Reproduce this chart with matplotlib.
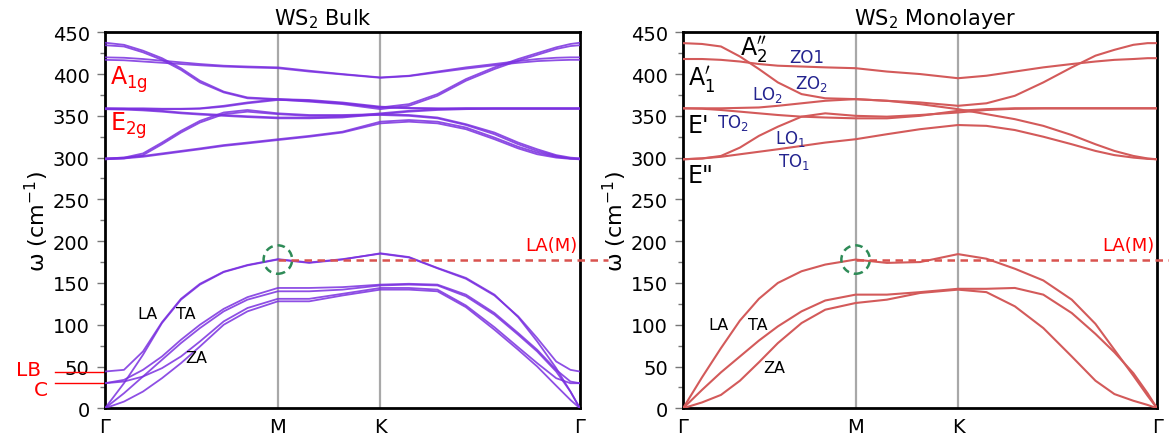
import matplotlib
matplotlib.use("Agg")
import matplotlib.pyplot as plt
from matplotlib.patches import Ellipse

# high-symmetry path, fraction of total path length
kpos = [0, 0.364, 0.58, 1.0]
klabels = ["Γ", "M", "K", "Γ"]
# sample points along the path (same for every band)
k = [0, 0.04, 0.08, 0.12, 0.16, 0.2, 0.25, 0.3, 0.364, 0.43, 0.5,
     0.58, 0.64, 0.7, 0.76, 0.82, 0.87, 0.91, 0.95, 0.98, 1.0]

# ---- WS2 bulk (cm^-1) ----
bulk_LA1 = [0, 30, 64, 102, 130, 148, 163, 171, 178, 174, 178, 185.5, 181, 168, 156, 136, 109, 80, 48, 20, 0]
bulk_LA2 = [44, 46, 68, 103, 131, 149, 163.5, 171.5, 178.5, 174.5, 178.5, 185, 180.5, 167.5, 155, 135, 110, 84, 56, 46, 44]
bulk_TA1 = [0, 18, 38, 58, 78, 96, 116, 130, 140, 140, 142, 147, 148, 147, 134, 112, 88, 68, 44, 20, 0]
bulk_TA2 = [30, 34, 46, 62, 82, 100, 119, 133, 144, 144, 145, 148, 149, 148, 136, 114, 90, 70, 46, 32, 30]
bulk_ZA1 = [0, 8, 20, 36, 54, 74, 100, 116, 128, 128, 135, 142, 142, 140, 121, 94, 70, 50, 27, 10, 0]
bulk_ZA2 = [30, 32, 38, 48, 62, 80, 104, 120, 131, 131, 137, 144, 144, 142, 123, 97, 73, 54, 36, 30, 30]
bulk_TO1a = [299, 300, 302, 305, 308, 311, 315, 318, 322, 326, 331, 343, 345, 343, 336, 324, 313, 306, 301, 299, 299]
bulk_TO1b = [298, 299, 301, 304, 307, 310, 314, 317, 321, 325, 330, 341, 343, 341, 334, 322, 311, 304, 300, 298.5, 298]
bulk_LO1a = [299, 300, 305, 318, 332, 344, 354, 357, 353, 351, 351, 352, 351, 348, 340, 330, 318, 310, 303, 300, 299]
bulk_LO1b = [298, 299, 303, 316, 330, 342, 352, 355, 352, 350, 350, 351, 350, 347, 339, 328, 316, 308, 302, 299, 298]
bulk_TO2a = [359, 358.5, 357.5, 356, 354, 352.5, 351, 349.5, 348, 348, 349, 353, 356, 358, 359, 359, 359, 359, 359, 359, 359]
bulk_TO2b = [358, 357.5, 356.5, 355, 353, 351.5, 350, 348.5, 347, 347, 348, 352, 355, 357, 358, 358.5, 358.5, 358.5, 358.5, 358.5, 358.5]
bulk_LO2a = [359, 359, 359, 358.5, 358.5, 359, 362, 366, 370, 369, 366, 361, 359.5, 359, 359, 359, 359, 359, 359, 359, 359]
bulk_LO2b = [358, 358, 358, 358, 358, 358.5, 361, 365, 369, 368, 365, 360, 359, 358.5, 358.5, 358.5, 358.5, 358.5, 358.5, 358.5, 358.5]
bulk_A1a = [420, 419.5, 418, 416, 414, 412, 410, 409, 408, 404, 400, 396, 398, 403, 408, 412, 415.5, 418, 419.5, 420, 420]
bulk_A1b = [417, 416.5, 415, 413.5, 412, 410.5, 409, 408, 407, 403, 399.5, 395.5, 397.5, 402, 406.5, 410.5, 413.5, 415.5, 416.5, 417, 417]
bulk_A2a = [437.5, 435, 428, 419, 407, 392, 379, 372, 370, 368, 365, 360, 364, 376, 394, 408, 418, 425, 432, 436, 437.5]
bulk_A2b = [434.5, 433, 426, 417, 405, 390, 378, 371, 369.5, 367, 364, 358, 362, 374, 392, 406, 416, 423, 430, 433.5, 434.5]

# ---- WS2 monolayer (cm^-1) ----
mono_ZA = [0, 7, 16, 33, 55, 78, 102, 118, 126, 130, 138, 142, 139, 122, 96, 62, 33, 17, 9, 4, 0]
mono_TA = [0, 22, 43, 62, 81, 98, 116, 129, 136, 136, 139, 143, 143, 144, 136, 114, 89, 67, 42, 18, 0]
mono_LA = [0, 37, 72, 105, 131, 150, 164, 172, 178, 174, 175, 184.5, 179, 167, 153, 130, 101, 70, 39, 15, 0]
mono_TO1 = [298, 299, 301, 304, 307, 310, 314, 318, 322, 328, 334, 339, 338, 333, 325, 316, 308, 303, 300, 298.5, 298]
mono_LO1 = [298, 299, 302, 312, 326, 337, 349, 353, 350, 349, 351, 354, 357, 358.5, 359, 359, 359, 359, 359, 359, 359]
mono_TO2 = [359, 358.5, 357, 355, 353, 351, 349, 348, 347, 347, 350, 356, 358, 359, 359, 359, 359, 359, 359, 359, 359]
mono_LO2 = [359, 359, 359, 359.5, 360, 362, 365, 368, 370, 368, 364, 358, 352, 346, 338, 327, 316, 308, 302, 299, 298]
mono_A1 = [418, 418, 417, 415, 412, 410, 409, 408, 407, 403, 400, 395, 398, 403, 408, 412, 415, 417, 418, 419, 419]
mono_A2 = [437, 436, 433, 421, 406, 390, 376, 371, 370, 368, 366, 362, 365, 374, 390, 408, 422, 429, 435, 437, 437]

la_M = 178  # LA frequency at M

bulk_bands = [bulk_LA1, bulk_LA2, bulk_TA1, bulk_TA2, bulk_ZA1, bulk_ZA2,
              bulk_TO1a, bulk_TO1b, bulk_LO1a, bulk_LO1b, bulk_TO2a, bulk_TO2b,
              bulk_LO2a, bulk_LO2b, bulk_A1a, bulk_A1b, bulk_A2a, bulk_A2b]
mono_bands = [mono_ZA, mono_TA, mono_LA, mono_TO1, mono_LO1, mono_TO2,
              mono_LO2, mono_A1, mono_A2]

fig = plt.figure(figsize=(11.69, 4.39), dpi=100)
ax1 = fig.add_axes([0.0898, 0.0677, 0.4063, 0.8565])
ax2 = fig.add_axes([0.5843, 0.0677, 0.4055, 0.8565])


def setup(ax, title, tx):
    ax.set_xlim(0, 1)
    ax.set_ylim(0, 450)
    ax.set_yticks(range(0, 451, 50))
    ax.set_yticks(range(25, 450, 50), minor=True)
    ax.set_xticks(kpos)
    ax.set_xticklabels(klabels)
    ax.tick_params(axis="x", length=0, pad=6, labelsize=14)
    ax.tick_params(axis="y", which="major", length=6, width=1, color="#777", labelsize=14, pad=5)
    ax.tick_params(axis="y", which="minor", length=3.5, width=1, color="#777")
    for s in ax.spines.values():
        s.set_linewidth(2)
    for x in kpos[1:3]:
        ax.axvline(x, color="#a8a8a8", lw=1.6, zorder=1)
    ax.set_ylabel("ω (cm$^{-1}$)", fontsize=16, labelpad=1)
    ax.set_title(title, x=tx, fontsize=15, pad=6)
    # LA(M) reference line and circle
    ax.plot([kpos[1], 1.06], [la_M, la_M], ls=(0, (3, 2.2)), color="#d9534f", lw=1.8,
            clip_on=False, zorder=4)
    ax.add_patch(Ellipse((kpos[1], la_M), 0.06, 34, fill=False, ls=(0, (3, 2)),
                         ec="#2e8b57", lw=1.8, zorder=5))


setup(ax1, "WS$_2$ Bulk", 0.459)
setup(ax2, "WS$_2$ Monolayer", 0.532)

for b in bulk_bands:
    ax1.plot(k, b, color="#7a30e0", lw=1.3, alpha=0.85, zorder=3)
for b in mono_bands:
    ax2.plot(k, b, color="#d35a5a", lw=1.5, zorder=3)

# labels, bulk
ax1.text(0.01, 395, "A$_{\\mathrm{1g}}$", color="red", fontsize=17, va="center")
ax1.text(0.01, 340, "E$_{\\mathrm{2g}}$", color="red", fontsize=17, va="center")
ax1.text(0.068, 113, "LA", fontsize=11.5, va="center")
ax1.text(0.15, 113, "TA", fontsize=11.5, va="center")
ax1.text(0.168, 61, "ZA", fontsize=11.5, va="center")
ax1.text(0.995, 196, "LA(M)", color="red", fontsize=13, ha="right", va="center")
ax1.plot([-0.105, 0], [44, 44], color="red", lw=1, clip_on=False)
ax1.plot([-0.105, 0], [30, 30], color="red", lw=1, clip_on=False)
ax1.text(-0.162, 46, "LB", color="red", fontsize=14.5, ha="center", va="center")
ax1.text(-0.135, 23, "C", color="red", fontsize=14.5, ha="center", va="center")

# labels, monolayer
ax2.text(0.12, 430, "A$_2^{\\prime\\prime}$", fontsize=17, va="center")
ax2.text(0.01, 394, "A$_1^{\\prime}$", fontsize=17, va="center")
ax2.text(0.01, 339, "E'", fontsize=17, va="center")
ax2.text(0.01, 279, 'E"', fontsize=17, va="center")
navy = "#24248f"
ax2.text(0.225, 421, "ZO1", color=navy, fontsize=12, va="center")
ax2.text(0.236, 389, "ZO$_2$", color=navy, fontsize=12, va="center")
ax2.text(0.145, 376, "LO$_2$", color=navy, fontsize=12, va="center")
ax2.text(0.072, 343, "TO$_2$", color=navy, fontsize=12, va="center")
ax2.text(0.193, 324, "LO$_1$", color=navy, fontsize=12, va="center")
ax2.text(0.2, 296, "TO$_1$", color=navy, fontsize=12, va="center")
ax2.text(0.053, 100, "LA", fontsize=11.5, va="center")
ax2.text(0.137, 100, "TA", fontsize=11.5, va="center")
ax2.text(0.169, 49, "ZA", fontsize=11.5, va="center")
ax2.text(0.995, 196, "LA(M)", color="red", fontsize=13, ha="right", va="center")

fig.savefig("out.png", dpi=100)
